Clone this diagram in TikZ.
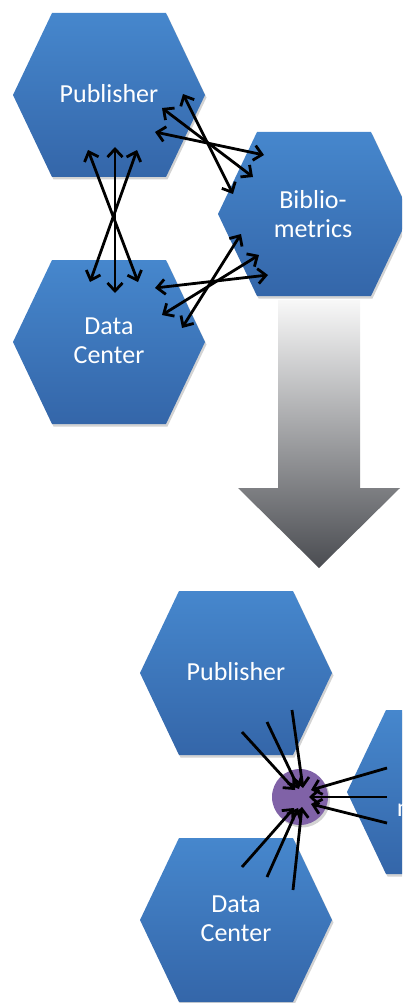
\documentclass[tikz,border=0pt]{standalone}
\usepackage{fontspec}
\setmainfont{Carlito}
\usetikzlibrary{arrows.meta,shadows}

\definecolor{hextop}{HTML}{4687CD}
\definecolor{hexbot}{HTML}{3466A9}
\definecolor{hubpurple}{HTML}{8062A7}
\definecolor{arrowtop}{HTML}{F8F8F8}
\definecolor{arrowbot}{HTML}{4A4C51}

\tikzset{
  hexfill/.style={top color=hextop,bottom color=hexbot,
    drop shadow={shadow xshift=1.5pt,shadow yshift=-2.5pt,opacity=.35}},
  hexa/.pic={\shade[hexfill] (-96,0) -- (-57,-82) -- (57,-82) -- (96,0) -- (57,82) -- (-57,82) -- cycle;},
  hexlabel/.style={text=white,align=center,inner sep=0pt,
    font=\fontsize{26}{29}\selectfont},
  both/.style={{Straight Barb[length=8pt,width=15pt]}-{Straight Barb[length=8pt,width=15pt]},line width=2.8pt},
  into/.style={-{Straight Barb[length=8pt,width=15pt]},line width=2.8pt},
}

\begin{document}
\begin{tikzpicture}[x=1pt,y=-1pt]
\useasboundingbox (0,0) rectangle (402,1003);
\clip (0,0) rectangle (402,1003);

% before: every system talks to every other one
\pic at (109,95) {hexa};
\pic at (109,342) {hexa};
\pic at (314,214) {hexa};
\node[hexlabel] (pub) at (109,94) {Publisher};
\node[hexlabel] (dc) at (109,341) {Data\\Center};
\node[hexlabel] (bib) at (313,214) {Biblio-\\metrics};

\coordinate (pubA) at (88,150);  \coordinate (dcA) at (138,282);
\coordinate (pubB) at (115,147); \coordinate (dcB) at (115,293);
\coordinate (pubC) at (137,150); \coordinate (dcC) at (90,282);
\draw[both] (pubA) -- (dcA);
\draw[both] (pubB) -- (dcB);
\draw[both] (pubC) -- (dcC);

\coordinate (pubD) at (155,132); \coordinate (bibD) at (264,155);
\coordinate (pubE) at (162,108); \coordinate (bibE) at (253,177);
\coordinate (pubF) at (183,94);  \coordinate (bibF) at (233,194);
\draw[both] (pubD) -- (bibD);
\draw[both] (pubE) -- (bibE);
\draw[both] (pubF) -- (bibF);

\coordinate (dcD) at (155,288); \coordinate (bibG) at (268,275);
\coordinate (dcE) at (162,315); \coordinate (bibH) at (259,255);
\coordinate (dcF) at (182,328); \coordinate (bibI) at (241,234);
\draw[both] (dcD) -- (bibG);
\draw[both] (dcE) -- (bibH);
\draw[both] (dcF) -- (bibI);

% the big arrow
\shade[top color=arrowtop,bottom color=arrowbot]
  (278,300) -- (360,300) -- (360,488) -- (400,488) -- (319,568)
  -- (238,488) -- (278,488) -- cycle;

% after: everything goes through one hub
\pic at (236,673) {hexa};
\pic at (236,920) {hexa};
\pic at (443,792) {hexa};
\node[hexlabel] (pub2) at (236,672) {Publisher};
\node[hexlabel] (dc2) at (236,919) {Data\\Center};
\node[hexlabel] (bib2) at (436,793) {Biblio-\\metrics};

\node[circle,fill=hubpurple,minimum size=56pt,inner sep=0pt,
  drop shadow={shadow xshift=2pt,shadow yshift=-2.5pt,opacity=.35}] (hub) at (300,797) {};

\coordinate (hubA) at (295,790); \coordinate (pubG) at (242,732);
\coordinate (hubB) at (299,789); \coordinate (pubH) at (267,722);
\coordinate (hubC) at (303,788); \coordinate (pubI) at (292,710);
\draw[into] (pubG) -- (hubA);
\draw[into] (pubH) -- (hubB);
\draw[into] (pubI) -- (hubC);

\coordinate (hubD) at (294,808); \coordinate (dcG) at (242,867);
\coordinate (hubE) at (298,808); \coordinate (dcH) at (267,877);
\coordinate (hubF) at (302,807); \coordinate (dcI) at (293,890);
\draw[into] (dcG) -- (hubD);
\draw[into] (dcH) -- (hubE);
\draw[into] (dcI) -- (hubF);

\coordinate (hubG) at (311,790); \coordinate (bibJ) at (387,768);
\coordinate (hubH) at (309,797); \coordinate (bibK) at (387,797);
\coordinate (hubI) at (311,804); \coordinate (bibL) at (387,823);
\draw[into] (bibJ) -- (hubG);
\draw[into] (bibK) -- (hubH);
\draw[into] (bibL) -- (hubI);
\end{tikzpicture}
\end{document}
